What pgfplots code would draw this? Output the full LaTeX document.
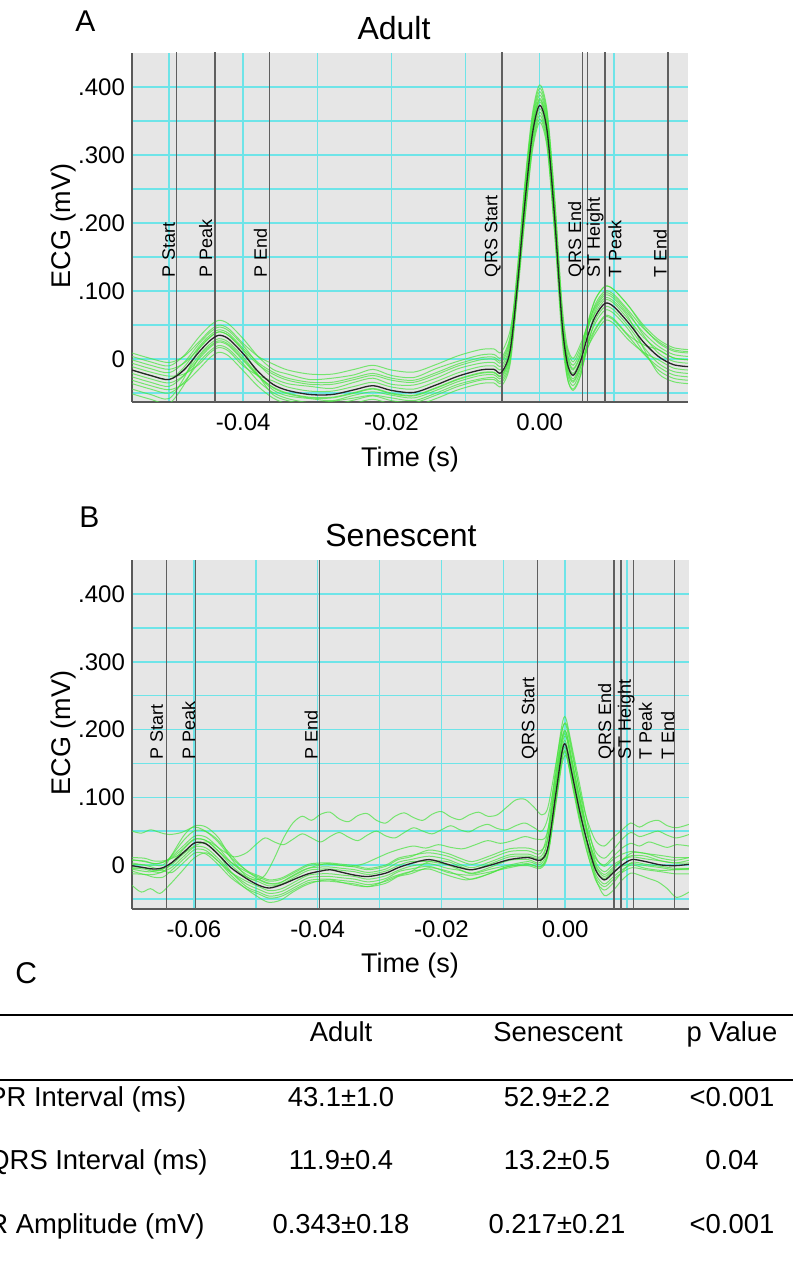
\documentclass[border=0pt]{standalone}
\usepackage{fontspec}
\setmainfont{Liberation Sans}
\usepackage{pgfplots}
\usepackage{pgfplotstable}
\pgfplotsset{compat=1.18}

\definecolor{trace}{RGB}{70,228,60}
\definecolor{gridc}{RGB}{110,228,232}
\definecolor{panel}{RGB}{230,230,230}
\definecolor{markc}{RGB}{95,95,95}

% adult: x, mean, individual beats
\pgfplotstableread{
x m g1 g2 g3 g4 g5 g6 g7 g8 g9 g10 g11 g12
-0.055 -0.016 0.004 -0.036 -0.006 -0.026 -0.011 -0.044 0.009 -0.021 -0.001 -0.031 -0.016 -0.051
-0.0525 -0.024 -0.004 -0.044 -0.014 -0.034 -0.019 -0.052 0.001 -0.029 -0.009 -0.039 -0.024 -0.059
-0.050 -0.030 -0.010 -0.050 -0.020 -0.040 -0.025 -0.058 -0.005 -0.035 -0.015 -0.045 -0.030 -0.065
-0.048 -0.016 0.005 -0.034 -0.005 -0.024 -0.022 -0.028 0.004 -0.024 -0.006 -0.036 -0.012 -0.038
-0.046 0.010 0.032 -0.005 0.022 0.005 -0.008 0.015 0.025 0.000 0.015 -0.015 0.018 0.002
-0.0445 0.027 0.049 0.012 0.039 0.022 0.009 0.032 0.042 0.017 0.032 0.002 0.035 0.019
-0.0433 0.035 0.057 0.020 0.047 0.030 0.017 0.040 0.050 0.025 0.040 0.010 0.043 0.027
-0.042 0.030 0.052 0.015 0.042 0.025 0.012 0.035 0.045 0.020 0.035 0.005 0.038 0.022
-0.040 0.008 0.030 -0.007 0.020 0.003 -0.010 0.013 0.023 -0.002 0.013 -0.017 0.016 0.000
-0.038 -0.018 0.004 -0.032 -0.007 -0.024 -0.024 -0.023 0.004 -0.025 -0.008 -0.040 -0.005 -0.024
-0.036 -0.037 -0.015 -0.049 -0.027 -0.045 -0.032 -0.052 -0.007 -0.041 -0.022 -0.057 -0.019 -0.042
-0.034 -0.046 -0.022 -0.058 -0.036 -0.054 -0.041 -0.061 -0.016 -0.050 -0.031 -0.066 -0.028 -0.051
-0.031 -0.052 -0.030 -0.064 -0.040 -0.058 -0.047 -0.067 -0.022 -0.056 -0.037 -0.072 -0.034 -0.057
-0.028 -0.052 -0.028 -0.062 -0.043 -0.061 -0.047 -0.067 -0.022 -0.056 -0.037 -0.072 -0.034 -0.057
-0.025 -0.045 -0.023 -0.057 -0.034 -0.053 -0.040 -0.060 -0.015 -0.049 -0.030 -0.065 -0.027 -0.050
-0.0225 -0.039 -0.015 -0.053 -0.028 -0.048 -0.034 -0.054 -0.009 -0.043 -0.024 -0.059 -0.021 -0.044
-0.020 -0.046 -0.024 -0.057 -0.037 -0.053 -0.041 -0.061 -0.016 -0.050 -0.031 -0.066 -0.028 -0.051
-0.017 -0.049 -0.027 -0.061 -0.038 -0.057 -0.044 -0.064 -0.019 -0.053 -0.034 -0.069 -0.031 -0.054
-0.014 -0.038 -0.014 -0.050 -0.028 -0.046 -0.033 -0.053 -0.008 -0.042 -0.023 -0.058 -0.020 -0.043
-0.011 -0.025 -0.003 -0.037 -0.014 -0.033 -0.020 -0.040 0.005 -0.029 -0.010 -0.045 -0.007 -0.030
-0.008 -0.016 0.006 -0.029 -0.006 -0.024 -0.011 -0.031 0.014 -0.020 -0.001 -0.036 0.002 -0.021
-0.0062 -0.015 0.007 -0.027 -0.005 -0.023 -0.010 -0.030 0.015 -0.019 0.000 -0.035 0.003 -0.020
-0.0052 -0.020 0.002 -0.032 -0.010 -0.028 -0.015 -0.035 0.010 -0.024 -0.005 -0.040 -0.002 -0.025
-0.004 0.012 0.034 0.001 0.022 0.006 0.017 -0.003 0.042 0.008 0.027 -0.008 0.030 0.007
-0.003 0.110 0.134 0.099 0.122 0.111 0.105 0.113 0.115 0.110 0.132 0.098 0.123 0.095
-0.002 0.230 0.255 0.220 0.245 0.240 0.215 0.250 0.210 0.235 0.260 0.225 0.238 0.205
-0.001 0.330 0.355 0.320 0.345 0.340 0.315 0.350 0.310 0.335 0.360 0.325 0.338 0.305
0.000 0.373 0.398 0.363 0.388 0.383 0.358 0.393 0.353 0.378 0.403 0.368 0.381 0.348
0.001 0.335 0.360 0.325 0.350 0.345 0.320 0.355 0.315 0.340 0.365 0.330 0.343 0.310
0.002 0.210 0.235 0.200 0.225 0.220 0.195 0.230 0.190 0.215 0.240 0.205 0.218 0.185
0.003 0.055 0.075 0.043 0.067 0.055 0.058 0.055 0.050 0.044 0.082 0.048 0.060 0.032
0.0037 -0.005 0.010 -0.020 0.003 -0.015 0.015 -0.025 0.005 -0.010 0.020 -0.013 -0.002 -0.027
0.0045 -0.024 -0.009 -0.039 -0.016 -0.034 -0.004 -0.044 -0.014 -0.029 0.001 -0.032 -0.021 -0.046
0.0055 -0.003 0.012 -0.018 0.005 -0.013 0.017 -0.023 0.007 -0.008 0.022 -0.011 0.000 -0.025
0.0065 0.035 0.055 0.017 0.045 0.025 0.052 0.022 0.052 0.023 0.050 0.018 0.046 0.028
0.0075 0.063 0.088 0.043 0.075 0.053 0.078 0.058 0.088 0.045 0.068 0.038 0.081 0.071
0.0088 0.082 0.107 0.062 0.094 0.072 0.097 0.077 0.107 0.064 0.087 0.057 0.100 0.090
0.010 0.077 0.102 0.057 0.089 0.067 0.092 0.072 0.102 0.059 0.082 0.052 0.095 0.085
0.012 0.053 0.078 0.033 0.065 0.043 0.068 0.048 0.078 0.035 0.058 0.028 0.071 0.061
0.014 0.025 0.047 0.008 0.039 0.010 0.035 0.018 0.050 0.021 0.032 0.010 0.045 0.016
0.016 0.004 0.024 -0.011 0.019 -0.016 0.009 -0.006 0.029 0.014 0.014 -0.001 0.026 -0.021
0.018 -0.008 0.012 -0.023 0.007 -0.028 -0.003 -0.018 0.017 0.002 0.002 -0.013 0.014 -0.033
0.020 -0.011 0.009 -0.026 0.004 -0.031 -0.006 -0.021 0.014 -0.001 -0.001 -0.016 0.011 -0.036
}\adult

% senescent: x, mean, individual beats
\pgfplotstableread{
x m n1 n2 n3 n4 n5 n6 n7 n8
-0.0700 -0.001 0.007 -0.009 0.003 -0.013 0.011 -0.005 0.001 -0.003
-0.0680 -0.004 0.006 -0.014 0.000 -0.014 0.010 -0.006 0.000 -0.004
-0.0665 -0.006 0.002 -0.014 0.000 -0.018 0.006 -0.010 -0.004 -0.008
-0.0650 -0.004 0.004 -0.010 0.000 -0.018 0.006 -0.010 -0.008 -0.006
-0.0635 0.004 0.013 -0.003 0.015 -0.007 0.010 0.004 -0.011 0.016
-0.0615 0.020 0.030 0.014 0.038 0.010 0.020 0.025 0.005 0.045
-0.0598 0.033 0.043 0.027 0.051 0.023 0.033 0.038 0.018 0.058
-0.0580 0.031 0.041 0.025 0.049 0.021 0.031 0.036 0.016 0.056
-0.0560 0.015 0.025 0.009 0.033 0.005 0.015 0.020 0.000 0.040
-0.0540 -0.004 0.004 -0.011 0.011 -0.011 -0.010 0.004 -0.019 0.010
-0.0515 -0.020 -0.014 -0.028 -0.008 -0.024 -0.032 -0.010 -0.035 -0.017
-0.0495 -0.030 -0.022 -0.036 -0.016 -0.032 -0.040 -0.018 -0.043 -0.025
-0.0478 -0.034 -0.028 -0.042 -0.022 -0.038 -0.046 -0.024 -0.049 -0.031
-0.0458 -0.029 -0.025 -0.039 -0.019 -0.035 -0.043 -0.021 -0.046 -0.028
-0.0435 -0.020 -0.014 -0.028 -0.008 -0.024 -0.032 -0.010 -0.035 -0.017
-0.0415 -0.013 -0.005 -0.019 0.001 -0.015 -0.023 -0.001 -0.026 -0.008
-0.0395 -0.009 -0.003 -0.017 0.003 -0.013 -0.021 0.001 -0.024 -0.006
-0.0380 -0.007 -0.003 -0.017 0.003 -0.013 -0.021 0.001 -0.024 -0.006
-0.0360 -0.011 -0.005 -0.019 0.001 -0.015 -0.023 -0.001 -0.026 -0.008
-0.0340 -0.015 -0.007 -0.021 -0.001 -0.017 -0.025 -0.003 -0.028 -0.010
-0.0318 -0.017 -0.011 -0.025 -0.005 -0.021 -0.029 -0.007 -0.032 -0.014
-0.0290 -0.012 -0.006 -0.020 0.000 -0.016 -0.024 -0.002 -0.027 -0.009
-0.0270 -0.004 0.004 -0.010 0.010 -0.008 -0.016 0.008 -0.017 -0.001
-0.0250 0.002 0.008 -0.006 0.014 -0.002 -0.010 0.012 -0.013 0.005
-0.0220 0.008 0.013 -0.002 0.018 0.002 0.005 0.022 -0.004 0.005
-0.0190 0.001 0.008 -0.011 0.013 -0.005 0.005 0.017 -0.009 0.000
-0.0170 -0.004 0.001 -0.014 0.006 -0.008 -0.002 0.010 -0.016 -0.007
-0.0150 -0.007 -0.004 -0.015 0.001 -0.013 -0.007 0.005 -0.021 -0.012
-0.0120 0.000 0.005 -0.010 0.010 -0.006 0.002 0.014 -0.012 -0.003
-0.0090 0.008 0.015 -0.004 0.020 0.000 0.012 0.024 -0.002 0.007
-0.0060 0.011 0.016 0.001 0.021 0.005 0.013 0.025 -0.001 0.008
-0.0040 0.007 0.012 -0.003 0.017 0.001 0.009 0.021 -0.005 0.004
-0.0028 0.026 0.038 0.016 0.051 0.025 0.025 0.041 0.014 0.040
-0.0015 0.106 0.126 0.096 0.146 0.111 0.101 0.121 0.094 0.136
-0.0005 0.168 0.188 0.158 0.208 0.173 0.163 0.183 0.156 0.198
0.0001 0.177 0.197 0.167 0.217 0.182 0.172 0.192 0.165 0.207
0.0012 0.130 0.150 0.120 0.170 0.135 0.125 0.145 0.118 0.160
0.0023 0.081 0.101 0.071 0.121 0.086 0.076 0.096 0.069 0.111
0.0035 0.036 0.050 0.028 0.066 0.033 0.036 0.050 0.022 0.052
0.0049 -0.007 0.001 -0.013 0.013 -0.017 -0.002 0.005 -0.022 -0.005
0.0063 -0.022 -0.014 -0.028 -0.002 -0.032 -0.017 -0.010 -0.037 -0.020
0.0077 -0.012 -0.004 -0.018 0.008 -0.022 -0.007 0.000 -0.027 -0.010
0.0092 0.000 0.007 -0.007 0.016 -0.011 0.007 0.008 -0.010 -0.002
0.0108 0.008 0.014 0.000 0.020 -0.004 0.018 0.012 0.004 0.002
0.0130 0.005 0.013 -0.005 0.017 -0.007 0.017 0.009 0.001 -0.001
0.0155 0.000 0.006 -0.008 0.014 -0.010 0.010 0.006 -0.002 -0.004
0.0178 -0.001 0.003 -0.007 0.011 -0.013 0.007 0.003 -0.005 -0.007
0.0200 0.001 0.007 -0.007 0.011 -0.013 0.011 0.003 -0.005 -0.005
}\senescent

\pgfplotsset{
  ecg/.style={
    scale only axis, anchor=south west,
    axis background/.style={fill=panel},
    axis x line*=bottom, axis y line*=left,
    axis line style={-, draw=black!65, line width=0.9pt},
    major tick length=0pt, minor tick length=0pt,
    scaled x ticks=false, scaled y ticks=false,
    grid=both,
    grid style={draw=gridc, line width=0.75pt, solid},
    major grid style={draw=gridc, line width=0.75pt, solid},
    minor grid style={draw=gridc, line width=0.75pt, solid},
    ticklabel style={font=\fontsize{12}{14}\selectfont},
    xticklabel style={yshift=-2.5pt},
    ytick={0,0.1,0.2,0.3,0.4},
    yticklabels={0,.100,.200,.300,.400},
    minor ytick={-0.05,0.05,0.15,0.25,0.35},
  },
  beat/.style={trace, opacity=0.7, line width=0.5pt, smooth, no markers},
  avg/.style={black!85, line width=0.65pt, smooth, no markers},
  mk/.style={markc, line width=0.6pt, no markers},
}
\tikzset{lab/.style={rotate=90, anchor=base west, inner sep=0pt, font=\fontsize{9}{10}\selectfont}}

\begin{document}
\begin{tikzpicture}

% ---- A: adult ----
\begin{axis}[ecg, at={(66pt,434.5pt)}, width=278pt, height=174.5pt,
  xmin=-0.055, xmax=0.020, ymin=-0.063, ymax=0.450,
  xtick={-0.04,-0.02,0}, xticklabels={-0.04,-0.02,0.00},
  minor xtick={-0.05,-0.03,-0.01,0.01}]
  \pgfplotsinvokeforeach{1,...,12}{\addplot[beat] table[x=x,y=g#1]{\adult};}
  \addplot[mk] coordinates {(-0.0490,-0.1) (-0.0490,0.5)};
  \addplot[mk] coordinates {(-0.0438,-0.1) (-0.0438,0.5)};
  \addplot[mk] coordinates {(-0.0365,-0.1) (-0.0365,0.5)};
  \addplot[mk] coordinates {(-0.0051,-0.1) (-0.0051,0.5)};
  \addplot[mk] coordinates {(0.0058,-0.1) (0.0058,0.5)};
  \addplot[mk] coordinates {(0.0064,-0.1) (0.0064,0.5)};
  \addplot[mk] coordinates {(0.0088,-0.1) (0.0088,0.5)};
  \addplot[mk] coordinates {(0.0173,-0.1) (0.0173,0.5)};
  \addplot[avg] table[x=x,y=m]{\adult};
  \node[lab] at (axis cs:-0.0492,0.119) {P Start};
  \node[lab] at (axis cs:-0.0442,0.119) {P Peak};
  \node[lab] at (axis cs:-0.0368,0.119) {P End};
  \node[lab] at (axis cs:-0.0057,0.119) {QRS Start};
  \node[lab] at (axis cs:0.0056,0.119) {QRS End};
  \node[lab] at (axis cs:0.0081,0.119) {ST Height};
  \node[lab] at (axis cs:0.0110,0.119) {T Peak};
  \node[lab] at (axis cs:0.0171,0.119) {T End};
\end{axis}

% ---- B: senescent ----
\begin{axis}[ecg, at={(66pt,181pt)}, width=278.5pt, height=174.5pt,
  xmin=-0.070, xmax=0.020, ymin=-0.065, ymax=0.4505,
  xtick={-0.06,-0.04,-0.02,0}, xticklabels={-0.06,-0.04,-0.02,0.00},
  minor xtick={-0.05,-0.03,-0.01,0.01}]
  \pgfplotsinvokeforeach{1,...,8}{\addplot[beat] table[x=x,y=n#1]{\senescent};}
  % noisy outlying beats
  \addplot[beat] coordinates {(-0.0700,0.008) (-0.0680,0.005) (-0.0660,0.002) (-0.0640,0.008) (-0.0620,0.022) (-0.0600,0.038) (-0.0580,0.036) (-0.0560,0.020) (-0.0540,0.000) (-0.0520,-0.015) (-0.0500,-0.022) (-0.0485,-0.015) (-0.0470,0.010) (-0.0455,0.040) (-0.0440,0.062) (-0.0425,0.072) (-0.0410,0.066) (-0.0395,0.075) (-0.0380,0.078) (-0.0365,0.068) (-0.0350,0.064) (-0.0335,0.073) (-0.0320,0.076) (-0.0305,0.066) (-0.0290,0.062) (-0.0275,0.072) (-0.0260,0.077) (-0.0245,0.070) (-0.0230,0.066) (-0.0215,0.075) (-0.0200,0.079) (-0.0185,0.071) (-0.0170,0.067) (-0.0155,0.074) (-0.0140,0.078) (-0.0125,0.072) (-0.0110,0.074) (-0.0095,0.085) (-0.0080,0.096) (-0.0065,0.097) (-0.0050,0.085) (-0.0038,0.074) (-0.0028,0.085) (-0.0015,0.150) (-0.0005,0.200) (0.0002,0.208) (0.0012,0.165) (0.0023,0.112) (0.0035,0.068) (0.0049,0.036) (0.0063,0.028) (0.0077,0.040) (0.0092,0.052) (0.0106,0.062) (0.0120,0.056) (0.0135,0.063) (0.0150,0.066) (0.0165,0.058) (0.0180,0.055) (0.0200,0.060)};
  \addplot[beat] coordinates {(-0.0700,-0.006) (-0.0670,-0.010) (-0.0640,-0.002) (-0.0615,0.018) (-0.0595,0.030) (-0.0575,0.034) (-0.0555,0.022) (-0.0535,0.012) (-0.0515,0.018) (-0.0500,0.030) (-0.0485,0.040) (-0.0470,0.034) (-0.0455,0.030) (-0.0440,0.038) (-0.0425,0.046) (-0.0410,0.040) (-0.0395,0.034) (-0.0380,0.042) (-0.0365,0.048) (-0.0350,0.041) (-0.0335,0.036) (-0.0320,0.044) (-0.0305,0.050) (-0.0290,0.043) (-0.0275,0.040) (-0.0260,0.048) (-0.0245,0.055) (-0.0230,0.050) (-0.0215,0.046) (-0.0200,0.052) (-0.0185,0.058) (-0.0170,0.052) (-0.0155,0.049) (-0.0140,0.056) (-0.0125,0.060) (-0.0110,0.054) (-0.0095,0.052) (-0.0080,0.058) (-0.0065,0.062) (-0.0050,0.055) (-0.0038,0.050) (-0.0028,0.070) (-0.0015,0.135) (-0.0005,0.188) (0.0002,0.195) (0.0012,0.150) (0.0023,0.100) (0.0035,0.055) (0.0049,0.020) (0.0063,0.010) (0.0077,0.022) (0.0092,0.038) (0.0106,0.048) (0.0120,0.042) (0.0135,0.046) (0.0150,0.050) (0.0165,0.044) (0.0180,0.040) (0.0200,0.045)};
  \addplot[beat] coordinates {(-0.0700,0.050) (-0.0685,0.047) (-0.0670,0.052) (-0.0655,0.048) (-0.0640,0.045) (-0.0620,0.048) (-0.0600,0.056) (-0.0585,0.052) (-0.0565,0.040) (-0.0545,0.020) (-0.0525,0.000) (-0.0505,-0.015) (-0.0485,-0.025) (-0.0465,-0.028) (-0.0445,-0.018) (-0.0425,-0.008) (-0.0405,-0.002) (-0.0385,0.002) (-0.0365,0.000) (-0.0345,-0.002) (-0.0325,0.002) (-0.0305,0.010) (-0.0285,0.018) (-0.0265,0.024) (-0.0245,0.028) (-0.0225,0.025) (-0.0205,0.030) (-0.0185,0.026) (-0.0165,0.024) (-0.0145,0.030) (-0.0125,0.036) (-0.0105,0.032) (-0.0085,0.036) (-0.0065,0.042) (-0.0045,0.038) (-0.0030,0.045) (-0.0015,0.120) (-0.0005,0.180) (0.0002,0.188) (0.0012,0.142) (0.0023,0.092) (0.0035,0.045) (0.0049,0.010) (0.0063,0.000) (0.0077,0.012) (0.0092,0.025) (0.0106,0.032) (0.0120,0.028) (0.0135,0.034) (0.0150,0.030) (0.0165,0.026) (0.0180,0.030) (0.0200,0.028)};
  \addplot[beat] coordinates {(-0.0700,-0.030) (-0.0685,-0.040) (-0.0670,-0.035) (-0.0655,-0.042) (-0.0640,-0.030) (-0.0620,-0.010) (-0.0600,0.010) (-0.0580,0.018) (-0.0560,0.005) (-0.0540,-0.015) (-0.0520,-0.032) (-0.0500,-0.045) (-0.0480,-0.055) (-0.0460,-0.052) (-0.0440,-0.040) (-0.0420,-0.030) (-0.0400,-0.024) (-0.0380,-0.022) (-0.0360,-0.026) (-0.0340,-0.030) (-0.0320,-0.032) (-0.0300,-0.027) (-0.0280,-0.018) (-0.0260,-0.012) (-0.0240,-0.008) (-0.0220,-0.006) (-0.0200,-0.012) (-0.0180,-0.018) (-0.0160,-0.022) (-0.0140,-0.018) (-0.0120,-0.012) (-0.0100,-0.004) (-0.0080,0.000) (-0.0060,0.002) (-0.0040,-0.002) (-0.0028,0.018) (-0.0015,0.090) (-0.0005,0.150) (0.0002,0.160) (0.0012,0.115) (0.0023,0.065) (0.0035,0.020) (0.0049,-0.020) (0.0063,-0.045) (0.0077,-0.038) (0.0092,-0.022) (0.0106,-0.012) (0.0120,-0.015) (0.0135,-0.020) (0.0150,-0.025) (0.0165,-0.035) (0.0180,-0.048) (0.0200,-0.040)};
  \addplot[mk] coordinates {(-0.0644,-0.1) (-0.0644,0.5)};
  \addplot[mk] coordinates {(-0.0597,-0.1) (-0.0597,0.5)};
  \addplot[mk] coordinates {(-0.0397,-0.1) (-0.0397,0.5)};
  \addplot[mk] coordinates {(-0.0045,-0.1) (-0.0045,0.5)};
  \addplot[mk] coordinates {(0.0079,-0.1) (0.0079,0.5)};
  \addplot[mk] coordinates {(0.0090,-0.1) (0.0090,0.5)};
  \addplot[mk] coordinates {(0.0110,-0.1) (0.0110,0.5)};
  \addplot[mk] coordinates {(0.0177,-0.1) (0.0177,0.5)};
  \addplot[avg] table[x=x,y=m]{\senescent};
  \node[lab] at (axis cs:-0.0650,0.155) {P Start};
  \node[lab] at (axis cs:-0.0598,0.155) {P Peak};
  \node[lab] at (axis cs:-0.0400,0.155) {P End};
  \node[lab] at (axis cs:-0.0050,0.155) {QRS Start};
  \node[lab] at (axis cs:0.0074,0.155) {QRS End};
  \node[lab] at (axis cs:0.0106,0.155) {ST Height};
  \node[lab] at (axis cs:0.0140,0.155) {T Peak};
  \node[lab] at (axis cs:0.0176,0.155) {T End};
\end{axis}

% ---- titles, labels and table C (pixel coordinates of the figure) ----
\begin{scope}[x=0.5pt, y=-0.5pt, yshift=635.5pt]
  \node[anchor=base west, inner sep=0pt, font=\fontsize{15}{17}\selectfont] at (75,32) {A};
  \node[anchor=base west, inner sep=0pt, font=\fontsize{15}{17}\selectfont] at (79,528) {B};
  \node[anchor=base west, inner sep=0pt, font=\fontsize{15}{17}\selectfont] at (15,984) {C};
  \node[anchor=base, inner sep=0pt, font=\fontsize{16}{18}\selectfont] at (394,40) {Adult};
  \node[anchor=base, inner sep=0pt, font=\fontsize{16}{18}\selectfont] at (401,547) {Senescent};
  \node[anchor=base, inner sep=0pt, font=\fontsize{13.5}{15}\selectfont] at (410,467) {Time (s)};
  \node[anchor=base, inner sep=0pt, font=\fontsize{13.5}{15}\selectfont] at (410,973) {Time (s)};
  \node[anchor=base, rotate=90, inner sep=0pt, font=\fontsize{13.5}{15}\selectfont] at (70,226) {ECG (mV)};
  \node[anchor=base, rotate=90, inner sep=0pt, font=\fontsize{13.5}{15}\selectfont] at (70,733) {ECG (mV)};

  \draw[line width=1.3pt] (0,1015) -- (793,1015);
  \draw[line width=0.8pt] (0,1080) -- (793,1080);
  \begin{scope}[every node/.style={inner sep=0pt, font=\fontsize{13.7}{15}\selectfont}]
    \node[anchor=base] at (341,1042) {Adult};
    \node[anchor=base] at (558,1042) {Senescent};
    \node[anchor=base] at (732,1042) {p Value};
    \node[anchor=base west] at (-12,1107) {PR Interval (ms)};
    \node[anchor=base] at (341,1107) {43.1±1.0};
    \node[anchor=base] at (557,1107) {52.9±2.2};
    \node[anchor=base] at (732,1107) {<0.001};
    \node[anchor=base west] at (-12,1170) {QRS Interval (ms)};
    \node[anchor=base] at (341,1170) {11.9±0.4};
    \node[anchor=base] at (557,1170) {13.2±0.5};
    \node[anchor=base] at (732,1170) {0.04};
    \node[anchor=base west] at (-12,1233) {R Amplitude (mV)};
    \node[anchor=base] at (341,1233) {0.343±0.18};
    \node[anchor=base] at (557,1233) {0.217±0.21};
    \node[anchor=base] at (732,1233) {<0.001};
  \end{scope}

  \pgfresetboundingbox
  \path[use as bounding box] (0,0) rectangle (793,1271);
\end{scope}
\end{tikzpicture}
\end{document}
